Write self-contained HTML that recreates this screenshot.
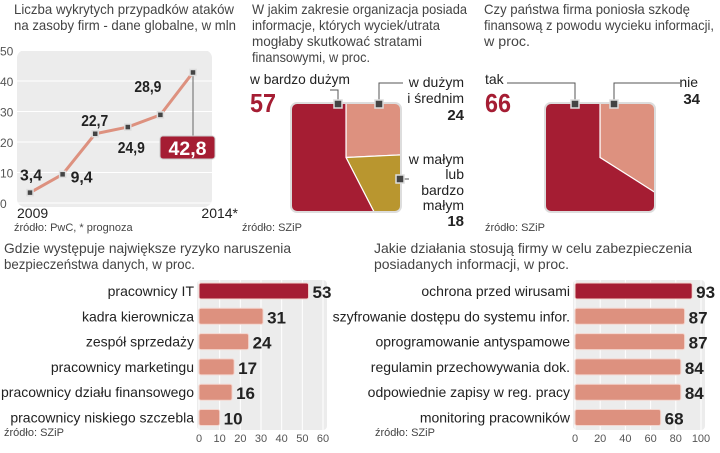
<!DOCTYPE html>
<html><head><meta charset="utf-8">
<style>
body{margin:0;background:#fff;width:720px;height:448px;overflow:hidden;font-family:"Liberation Sans Narrow","Liberation Sans",sans-serif;color:#222}
svg text{font-family:"Liberation Sans Narrow","Liberation Sans",sans-serif}
</style></head><body>
<svg id="c" width="720" height="448" viewBox="0 0 720 448" xmlns="http://www.w3.org/2000/svg">
<g font-size="14" fill="#444" lengthAdjust="spacingAndGlyphs">
<text x="14" y="14" textLength="220" lengthAdjust="spacingAndGlyphs">Liczba wykrytych przypadków ataków</text>
<text x="14" y="30" textLength="222" lengthAdjust="spacingAndGlyphs">na zasoby firm - dane globalne, w mln</text>
<text x="252" y="14" textLength="215" lengthAdjust="spacingAndGlyphs">W jakim zakresie organizacja posiada</text>
<text x="252" y="30" textLength="188" lengthAdjust="spacingAndGlyphs">informacje, których wyciek/utrata</text>
<text x="252" y="46" textLength="170" lengthAdjust="spacingAndGlyphs">mogłaby skutkować stratami</text>
<text x="252" y="62" textLength="118" lengthAdjust="spacingAndGlyphs">finansowymi, w proc.</text>
<text x="484" y="14" textLength="206" lengthAdjust="spacingAndGlyphs">Czy państwa firma poniosła szkodę</text>
<text x="484" y="30" textLength="230" lengthAdjust="spacingAndGlyphs">finansową z powodu wycieku informacji,</text>
<text x="484" y="46" textLength="46" lengthAdjust="spacingAndGlyphs">w proc.</text>
<text x="4" y="253" textLength="287" lengthAdjust="spacingAndGlyphs">Gdzie występuje największe ryzyko naruszenia</text>
<text x="4" y="269" textLength="191" lengthAdjust="spacingAndGlyphs">bezpieczeństwa danych, w proc.</text>
<text x="374" y="253" textLength="318" lengthAdjust="spacingAndGlyphs">Jakie działania stosują firmy w celu zabezpieczenia</text>
<text x="374" y="269" textLength="195" lengthAdjust="spacingAndGlyphs">posiadanych informacji, w proc.</text>
</g>
<g font-size="11" fill="#444">
<text x="14" y="231">źródło: PwC, * prognoza</text>
<text x="242" y="231">źródło: SZiP</text>
<text x="485" y="231">źródło: SZiP</text>
<text x="4" y="436">źródło: SZiP</text>
<text x="375" y="436">źródło: SZiP</text>
</g>
<defs>
<clipPath id="cp1"><rect x="291" y="103" width="110" height="109" rx="6"/></clipPath>
<clipPath id="cp2"><rect x="545" y="103" width="110" height="109" rx="6"/></clipPath>
</defs>
<g id="line"></g><g id="pies"></g><g id="bars"></g>
</svg>
<script>
const NS="http://www.w3.org/2000/svg";
const root=document.getElementById('c');
function mk(tag,attrs,parent,txt){const e=document.createElementNS(NS,tag);for(const k in attrs)e.setAttribute(k,attrs[k]);if(txt!==undefined)e.textContent=txt;(parent||root).appendChild(e);return e;}

// ---- line chart data
const lineYears=["2009","2010","2011","2012","2013","2014*"];
const lineValues=[3.4,9.4,22.7,24.9,28.9,42.8];
const lineLabels=["3,4","9,4","22,7","24,9","28,9","42,8"];
const lineTicks=[0,10,20,30,40,50];
// ---- pie data
const pie1Values=[24,18,57];
const pie2Values=[34,66];
// ---- bar data
const bar1Cats=["pracownicy IT","kadra kierownicza","zespół sprzedaży","pracownicy marketingu","pracownicy działu finansowego","pracownicy niskiego szczebla"];
const bar1Values=[53,31,24,17,16,10];
const bar1Ticks=[0,10,20,30,40,50,60];
const bar2Cats=["ochrona przed wirusami","szyfrowanie dostępu do systemu infor.","oprogramowanie antyspamowe","regulamin przechowywania dok.","odpowiednie zapisy w reg. pracy","monitoring pracowników"];
const bar2Values=[93,87,87,84,84,68];
const bar2Ticks=[0,20,40,60,80,100];

const RED="#a51d33",PINK="#dd917f",GOLD="#b9962f";

// ---- line chart
const L=document.getElementById('line');
const ly=v=>203-3.05*v, lx=i=>30+i*32.6;
const lbg=mk('rect',{x:17,y:50,width:195,height:157,rx:8,fill:"#ececec"},L);


lineTicks.forEach(t=>{const e=mk('text',{x:0,y:ly(t)+5,"font-size":12,fill:"#555"},L,String(t));
 const g=mk('line',{x1:17,x2:212,y1:ly(t),y2:ly(t),stroke:"#fff","stroke-width":1},L);});
const pts=lineValues.map((v,i)=>lx(i)+","+ly(v)).join(" ");
const pl=mk('polyline',{points:pts,fill:"none",stroke:PINK,"stroke-width":3},L);


const n=lineValues.length-1;
mk('line',{x1:lx(n),x2:lx(n),y1:ly(lineValues[n]),y2:137,stroke:"#666"},L);
const offs=[[-10,-12],[8,8],[-14,-8],[-10,26],[-26,-23]];
lineValues.forEach((v,i)=>{
 const p=mk('rect',{x:lx(i)-3,y:ly(v)-3,width:6,height:6,fill:"#444",stroke:"#ddd","stroke-width":1.5},L);
 
 
 if(i<n){
  const off=offs[i];
  const t=mk('text',{x:lx(i)+off[0],y:ly(v)+off[1],"font-size":16,"font-weight":"bold",fill:"#222",textLength:lineLabels[i].length>3?27:22,lengthAdjust:"spacingAndGlyphs"},L,lineLabels[i]);
  
  
 }
});
const bx=mk('rect',{x:160,y:136,width:55,height:23,rx:3,fill:RED,stroke:"#ccc"},L);


const bt=mk('text',{x:187.5,y:155,"font-size":19,"font-weight":"bold",fill:"#fff","text-anchor":"middle",textLength:38,lengthAdjust:"spacingAndGlyphs"},L,lineLabels[n]);


[[0,"start",17],[n,"end",238]].forEach(([i,a,x])=>{const t=mk('text',{x:x,y:218,"font-size":14,fill:"#222","text-anchor":a},L,lineYears[i]);});

// ---- pies (pie clipped by rounded square)
const P=document.getElementById('pies');
function pie(vals,cols,cx,cy,clip,name){
 const g=mk('g',{"clip-path":"url(#"+clip+")"},P);
 
 
 mk('rect',{x:cx-56,y:cy-55,width:112,height:110,fill:"#fff"},g);
 const tot=vals.reduce((a,b)=>a+b,0);let a0=0;const R=200;
 vals.forEach((v,i)=>{const a1=a0+v/tot*2*Math.PI;
  const p=(a)=>(cx+R*Math.sin(a))+","+(cy-R*Math.cos(a));
  const s=mk('path',{d:`M${cx},${cy} L${p(a0)} A${R},${R} 0 ${a1-a0>Math.PI?1:0} 1 ${p(a1)} Z`,fill:cols[i],stroke:"#fff","stroke-width":1.2},g);
  
  
  a0=a1;});
 mk('rect',{x:cx-55,y:cy-54.5,width:110,height:109,rx:6,fill:"none",stroke:"#ddd","stroke-width":2},P);
}
pie(pie1Values,[PINK,GOLD,RED],346,157.5,'cp1','pie1');
pie(pie2Values,[PINK,RED],600,157.5,'cp2','pie2');
function mark(x,y){const r=mk('rect',{x:x-4,y:y-4,width:8,height:8,fill:"#444",stroke:"#ddd","stroke-width":1.5},P);}
function pl2(pts){mk('polyline',{points:pts,fill:"none",stroke:"#555"},P);}
function tx(x,y,s,t,opt){const e=mk('text',Object.assign({x:x,y:y,"font-size":s,fill:"#222"},opt||{}),P,t);return e;}
pl2("338,103 338,90 330,90");pl2("379,103 379,83 403,83");pl2("401,179 409,179");
mark(338,104);mark(379,104);mark(400,179);
tx(250,84,14,"w bardzo dużym",{textLength:100,lengthAdjust:"spacingAndGlyphs"});
tx(250,112,26,String(pie1Values[2]),{"font-weight":"bold",fill:RED,textLength:26,lengthAdjust:"spacingAndGlyphs"});
tx(464,87,14,"w dużym",{"text-anchor":"end"});tx(464,103,14,"i średnim",{"text-anchor":"end"});
tx(464,120,15,String(pie1Values[0]),{"text-anchor":"end","font-weight":"bold"});
tx(464,164,14,"w małym",{"text-anchor":"end"});tx(464,179,14,"lub",{"text-anchor":"end"});
tx(464,195,14,"bardzo",{"text-anchor":"end"});tx(464,210,14,"małym",{"text-anchor":"end"});
tx(464,226,15,String(pie1Values[1]),{"text-anchor":"end","font-weight":"bold"});
pl2("575,103 575,83 507,83");pl2("614,103 614,83 680,83");
mark(575,104);mark(614,104);
tx(485,84,14,"tak");
tx(485,112,26,String(pie2Values[1]),{"font-weight":"bold",fill:RED,textLength:26,lengthAdjust:"spacingAndGlyphs"});
tx(698,87,14,"nie",{"text-anchor":"end"});
tx(700,104,15,String(pie2Values[0]),{"text-anchor":"end","font-weight":"bold"});

// ---- bar charts
const B=document.getElementById('bars');
function bars(cats,vals,ticks,x0,x1,maxv,name){
 const xs=v=>x0+(v/maxv)*(x1-x0);
 const bg=mk('rect',{x:x0-2,y:280,width:x1-x0+6,height:150,rx:4,fill:"#ececec"},B);
 
 
 ticks.forEach(t=>{mk('line',{x1:xs(t),x2:xs(t),y1:280,y2:430,stroke:"#fff"},B);
  const e=mk('text',{x:xs(t),y:442,"font-size":11,fill:"#555","text-anchor":"middle"},B,String(t));
  
  });
 cats.forEach((c,i)=>{const cy=291+i*25.3;
  const r=mk('rect',{x:x0,y:cy-8,width:xs(vals[i])-x0,height:16,rx:2,fill:i===0?RED:PINK,stroke:"#f4d6cf","stroke-width":1},B);
  
  
  const l=mk('text',{x:x0-5,y:cy+5,"font-size":14,fill:"#222","text-anchor":"end"},B,c);
  
  
  const v=mk('text',{x:xs(vals[i])+4,y:cy+7,"font-size":17,"font-weight":"bold",fill:"#222"},B,String(vals[i]));
  
  
 });
}
bars(bar1Cats,bar1Values,bar1Ticks,199,323,60,'bar1');
bars(bar2Cats,bar2Values,bar2Ticks,575,701,100,'bar2');
</script>
</body></html>
